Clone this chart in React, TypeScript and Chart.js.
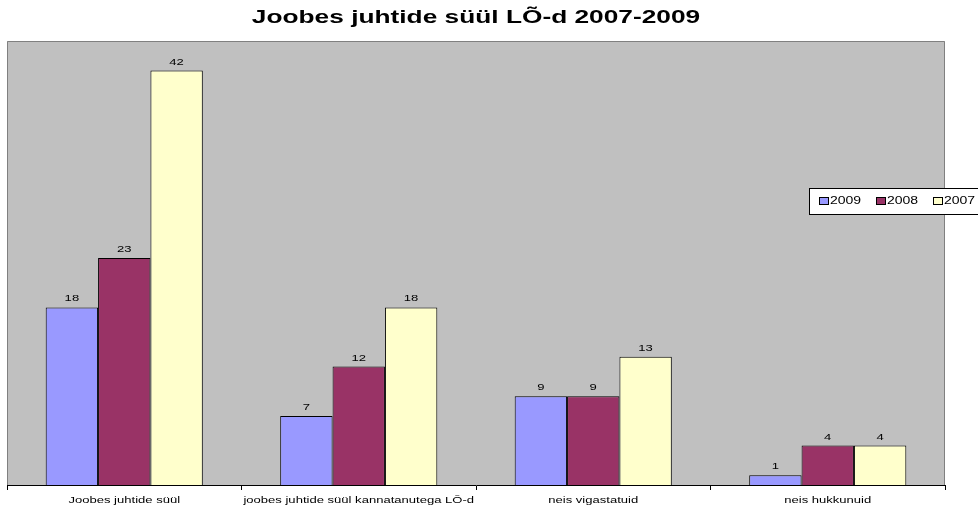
import React, { useEffect, useRef } from "react";
import { Chart, registerables } from "chart.js";

Chart.register(...registerables);

const TITLE = "Joobes juhtide süül LÕ-d 2007-2009";
const categories = [
  "Joobes juhtide süül",
  "joobes juhtide süül kannatanutega LÕ-d",
  "neis vigastatuid",
  "neis hukkunuid",
];
const seriesLabels = ["2009", "2008", "2007"];
const values2009 = [18, 7, 9, 1];
const values2008 = [23, 12, 9, 4];
const values2007 = [42, 18, 13, 4];
const seriesColors = ["#9999FF", "#993366", "#FFFFCC"];
const Y_MIN = 0;
const Y_MAX = 45;

const FONT = "'Liberation Sans', Arial, Helvetica, sans-serif";
const SX = 1.45;

function stretchText(
  ctx: CanvasRenderingContext2D,
  text: string,
  x: number,
  y: number,
  font: string,
  align: CanvasTextAlign,
  baseline: CanvasTextBaseline,
  sx: number
) {
  ctx.save();
  ctx.font = font;
  ctx.textAlign = align;
  ctx.textBaseline = baseline;
  ctx.fillStyle = "#000";
  ctx.translate(x, y);
  ctx.scale(sx, 1);
  ctx.fillText(text, 0, 0);
  ctx.restore();
}

const excelPlugin = {
  id: "excelLook",
  beforeDraw(chart: any) {
    const { ctx, chartArea: a, width, height } = chart;
    ctx.save();
    ctx.fillStyle = "#FFFFFF";
    ctx.fillRect(0, 0, width, height);
    ctx.fillStyle = "#C0C0C0";
    ctx.fillRect(a.left, a.top, a.right - a.left, a.bottom - a.top);
    ctx.strokeStyle = "#808080";
    ctx.lineWidth = 1;
    ctx.beginPath();
    ctx.moveTo(Math.round(a.left) + 0.5, Math.round(a.bottom));
    ctx.lineTo(Math.round(a.left) + 0.5, Math.round(a.top) + 0.5);
    ctx.lineTo(Math.round(a.right) - 0.5, Math.round(a.top) + 0.5);
    ctx.lineTo(Math.round(a.right) - 0.5, Math.round(a.bottom));
    ctx.stroke();
    ctx.restore();
  },
  afterDraw(chart: any) {
    const { ctx, chartArea: a } = chart;
    // data labels
    chart.data.datasets.forEach((ds: any, di: number) => {
      const meta = chart.getDatasetMeta(di);
      meta.data.forEach((bar: any, i: number) => {
        stretchText(ctx, String(ds.data[i]), bar.x, bar.y - 6, `9px ${FONT}`, "center", "alphabetic", SX);
      });
    });
    // title
    stretchText(ctx, TITLE, (a.left + a.right) / 2, 23, `bold 18px ${FONT}`, "center", "alphabetic", 1.46);
    // category labels
    const xs = chart.scales.x;
    categories.forEach((c, i) => {
      stretchText(ctx, c, xs.getPixelForValue(i), 503, `9px ${FONT}`, "center", "alphabetic", SX);
    });
    // legend
    ctx.save();
    ctx.fillStyle = "#FFFFFF";
    ctx.strokeStyle = "#000000";
    ctx.lineWidth = 1;
    ctx.fillRect(809.5, 188.5, 200, 26);
    ctx.strokeRect(809.5, 188.5, 200, 26);
    chart.data.datasets.forEach((ds: any, di: number) => {
      const x = 819 + di * 57;
      ctx.fillStyle = ds.backgroundColor;
      ctx.fillRect(x + 0.5, 197.5, 9, 7);
      ctx.strokeRect(x + 0.5, 197.5, 9, 7);
      stretchText(ctx, ds.label, x + 11, 204, `10px ${FONT}`, "left", "alphabetic", 1.4);
    });
    ctx.restore();
  },
};

export default function App() {
  const ref = useRef<HTMLCanvasElement | null>(null);

  useEffect(() => {
    if (!ref.current) return;
    const seriesValues = [values2009, values2008, values2007];
    const chart = new Chart(ref.current, {
      type: "bar",
      data: {
        labels: categories,
        datasets: seriesLabels.map((label, i) => ({
          label,
          data: seriesValues[i],
          backgroundColor: seriesColors[i],
          borderColor: "#000000",
          borderWidth: 1,
          categoryPercentage: 0.67,
          barPercentage: 1.0,
        })),
      },
      options: {
        responsive: false,
        animation: false,
        events: [],
        layout: { padding: { left: 7, right: 33, top: 41, bottom: 0 } },
        plugins: {
          legend: { display: false },
          title: { display: false },
          tooltip: { enabled: false },
        },
        scales: {
          x: {
            offset: true,
            grid: {
              display: true,
              drawOnChartArea: false,
              drawTicks: true,
              tickLength: 5,
              color: "#000000",
              offset: true,
            },
            border: { display: true, color: "#000000", width: 1 },
            ticks: { display: false },
            afterFit: (scale: any) => {
              scale.height = 21;
            },
          },
          y: {
            display: false,
            min: Y_MIN,
            max: Y_MAX,
          },
        },
      },
      plugins: [excelPlugin],
    });
    return () => chart.destroy();
  }, []);

  return (
    <div style={{ position: "fixed", left: 0, top: 0, width: 978, height: 506, background: "#fff" }}>
      <canvas ref={ref} width={978} height={506} style={{ display: "block", width: 978, height: 506 }} />
    </div>
  );
}
